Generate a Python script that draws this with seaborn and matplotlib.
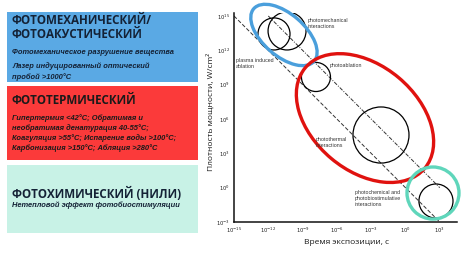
import numpy as np
import pandas as pd
import seaborn as sns
import matplotlib
matplotlib.use("Agg")
import matplotlib.pyplot as plt
from matplotlib.patches import Ellipse, Circle, Rectangle

# ---------------- data ----------------
x_ticks = [-15, -12, -9, -6, -3, 0, 3]
y_ticks = [-3, 0, 3, 6, 9, 12, 15]
x_tick_labels = ["$10^{-15}$", "$10^{-12}$", "$10^{-9}$", "$10^{-6}$", "$10^{-3}$", "$10^{0}$", "$10^{3}$"]
y_tick_labels = ["$10^{-3}$", "$10^{0}$", "$10^{3}$", "$10^{6}$", "$10^{9}$", "$10^{12}$", "$10^{15}$"]

# energy density lines (log10 time, log10 power density)
line1_x = [-15, 3]
line1_y = [15, -3]
line2_x = [-12, 3]
line2_y = [15, 0]

# black circles: centre (log t, log P) and radius (decades)
circle_x = [-11.5, -10.36, -7.83, -2.14, 2.67]
circle_y = [13.43, 13.69, 9.67, 4.6, -1.17]
circle_r = [1.4, 1.66, 1.27, 2.45, 1.49]

# coloured regions
ring_x = [-10.63, -3.54, 2.41]
ring_y = [13.34, 6.08, -0.47]
ring_w = [7.0, 13.65, 4.55]
ring_h = [3.67, 9.2, 4.55]
ring_angle = [-41, -40, 0]
ring_color = ["#4a9fdc", "#e0120f", "#5fd6bb"]

annot_text = ["photomechanical\ninteractions", "plasma induced\nablation", "photoablation",
              "photothermal\ninteractions", "photochemical and\nphotobiostimulative\ninteractions"]
annot_x = [-8.53, -14.83, -6.6, -7.83, -4.41]
annot_y = [14.83, 11.33, 10.89, 4.42, -0.21]

box_titles = ["ФОТОМЕХАНИЧЕСКИЙ/\nФОТОАКУСТИЧЕСКИЙ", "ФОТОТЕРМИЧЕСКИЙ", "ФОТОХИМИЧЕСКИЙ (НИЛИ)"]
box_lines = [
    ["Фотомеханическое разрушение вещества", "Лазер индуцированный оптический", "пробой >1000°C"],
    ["Гипертермия <42°C; Обратимая и", "необратимая денатурация 40-55°C;",
     "Коагуляция >55°C; Испарение воды >100°C;", "Карбонизация >150°C; Абляция >280°C"],
    ["Нетепловой эффект фотобиостимуляции"],
]
box_colors = ["#5aa9e4", "#fb3a3a", "#c8f2e6"]

# ---------------- figure ----------------
sns.set_theme(style="white")
plt.rcParams["font.family"] = ["Open Sans", "DejaVu Sans"]

W, H = 474, 254
fig = plt.figure(figsize=(W / 100, H / 100), dpi=100)
fig.patch.set_facecolor("white")

def fx(px):
    return px / W

def fy(py):
    return 1 - py / H

# left boxes (pixel layout)
box_top = [12, 86, 165]
box_bot = [82, 160, 233]
title_y = [[20, 34], [101], [194]]
lines_y = [[52, 66, 77], [118, 128, 138, 148], [205]]
for i in range(3):
    fig.patches.append(Rectangle((fx(7), fy(box_bot[i])), fx(198) - fx(7), fy(box_top[i]) - fy(box_bot[i]),
                                 transform=fig.transFigure, facecolor=box_colors[i], edgecolor="none", zorder=0))
    tcol = "#1a1a1a" if i == 1 else "#142236"
    for j, t in enumerate(box_titles[i].split("\n")):
        fig.text(fx(12), fy(title_y[i][j]), t, fontsize=8.35, fontweight="bold", color=tcol,
                 ha="left", va="center", family=["Open Sans", "DejaVu Sans"])
    for j, t in enumerate(box_lines[i]):
        fig.text(fx(12), fy(lines_y[i][j]), t, fontsize=5.4, fontweight="bold", fontstyle="italic",
                 color=tcol, ha="left", va="center", family=["Liberation Sans", "DejaVu Sans"])

# chart axes
ax = fig.add_axes([fx(234), fy(222), fx(457) - fx(234), fy(13) - fy(222)])
ax.set_facecolor("white")

df1 = pd.DataFrame({"t": line1_x, "p": line1_y})
df2 = pd.DataFrame({"t": line2_x, "p": line2_y})
sns.lineplot(data=df1, x="t", y="p", ax=ax, color="#333333", lw=0.7, linestyle=(0, (4, 2)))
sns.lineplot(data=df2, x="t", y="p", ax=ax, color="#333333", lw=0.7, linestyle=(0, (4, 1.5, 1, 1.5)))

for cx, cy, r in zip(circle_x, circle_y, circle_r):
    ax.add_patch(Circle((cx, cy), r, facecolor="none", edgecolor="black", lw=0.9, zorder=3))

for cx, cy, w, h, a, c in zip(ring_x, ring_y, ring_w, ring_h, ring_angle, ring_color):
    ax.add_patch(Ellipse((cx, cy), w, h, angle=a, facecolor="none", edgecolor=c, lw=2.4,
                         zorder=4, clip_on=False))

for t, x, y in zip(annot_text, annot_x, annot_y):
    ax.text(x, y, t, fontsize=3.8, color="#333333", ha="left", va="top",
            family=["Liberation Sans", "DejaVu Sans"], linespacing=1.3, zorder=5)

ax.set_xlim(-15, 4.51)
ax.set_ylim(-3, 15.26)
ax.set_xticks(x_ticks)
ax.set_xticklabels(x_tick_labels)
ax.set_yticks(y_ticks)
ax.set_yticklabels(y_tick_labels)
ax.tick_params(axis="both", direction="in", length=4, width=0.7, labelsize=3.8, pad=3, colors="#222222")
for s in ["top", "right"]:
    ax.spines[s].set_visible(False)
for s in ["left", "bottom"]:
    ax.spines[s].set_color("#111111")
    ax.spines[s].set_linewidth(1.1)

ax.set_xlabel("")
ax.set_ylabel("")
fig.text(fx(347), fy(243), "Время экспозиции, с", fontsize=6.0, color="#1a1a1a", ha="center", va="center")
fig.text(fx(210), fy(112), "Плотность мощности, W/cm²", fontsize=6.0, color="#1a1a1a",
         ha="center", va="center", rotation=90)

fig.savefig("out.png", dpi=100, facecolor="white")
